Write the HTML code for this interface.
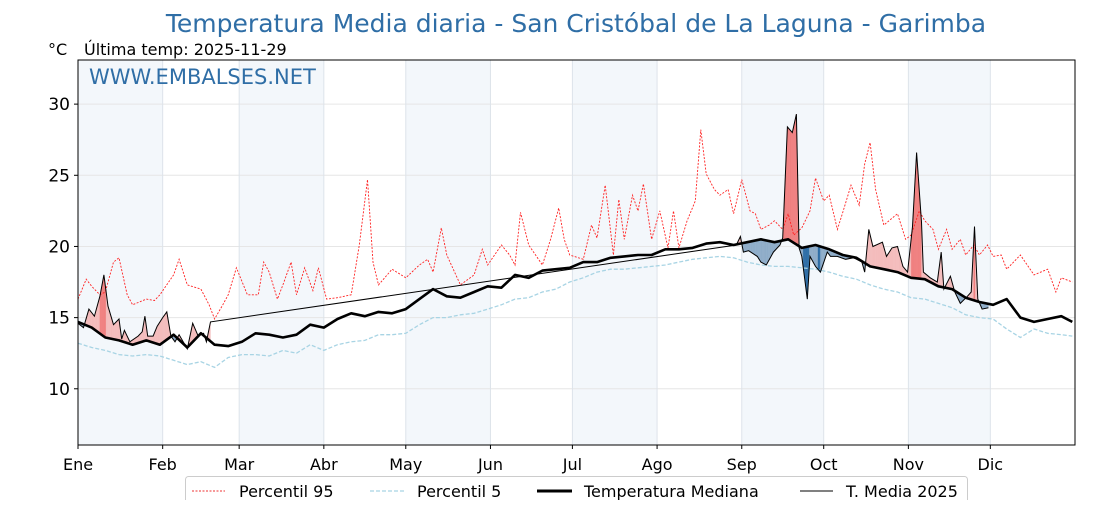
<!DOCTYPE html>
<html><head><meta charset="utf-8"><style>
body{margin:0;background:#fff;}
svg text{font-family:"DejaVu Sans","Liberation Sans",sans-serif;}
</style></head><body>
<svg id="chart" width="1120" height="500" viewBox="0 0 1120 500" xmlns="http://www.w3.org/2000/svg">
<text x="576" y="32" text-anchor="middle" font-size="25" fill="#2f6ea6">Temperatura Media diaria - San Cristóbal de La Laguna - Garimba</text>
<text x="48" y="55" font-size="16" fill="#000">°C</text>
<text x="84" y="55" font-size="16" fill="#000">Última temp: 2025-11-29</text>
<g id="plot"></g>
<text x="89" y="84" font-size="21" fill="#2f6ea6">WWW.EMBALSES.NET</text>
<g>
<rect x="185.5" y="476.5" width="782" height="30" rx="3" fill="#fff" stroke="#ccc"/>
<line x1="192" y1="491" x2="225" y2="491" stroke="#e33" stroke-width="1" stroke-dasharray="2,1.5"/>
<text x="239" y="497" font-size="16">Percentil 95</text>
<line x1="370" y1="491" x2="405" y2="491" stroke="#a8d4e4" stroke-width="1.3" stroke-dasharray="4,2"/>
<text x="417" y="497" font-size="16">Percentil 5</text>
<line x1="537" y1="491" x2="572" y2="491" stroke="#000" stroke-width="3"/>
<text x="584" y="497" font-size="16">Temperatura Mediana</text>
<line x1="800" y1="491" x2="833" y2="491" stroke="#000" stroke-width="1"/>
<text x="846" y="497" font-size="16">T. Media 2025</text>
</g>
</svg>
<script>
const monthLabels=["Ene","Feb","Mar","Abr","May","Jun","Jul","Ago","Sep","Oct","Nov","Dic"];
const monthStartDays=[0,31,59,90,120,151,181,212,243,273,304,334];
const yTicks=[10,15,20,25,30];
const medianVals=[14.7,14.3,13.6,13.4,13.1,13.4,13.1,13.8,12.9,13.9,13.1,13.0,13.3,13.9,13.8,13.6,13.8,14.5,14.3,14.9,15.3,15.1,15.4,15.3,15.6,16.3,17.0,16.5,16.4,16.8,17.2,17.1,18.0,17.8,18.3,18.4,18.5,18.9,18.9,19.2,19.3,19.4,19.4,19.8,19.8,19.9,20.2,20.3,20.1,20.3,20.5,20.3,20.5,19.9,20.1,19.8,19.4,19.2,18.6,18.4,18.2,17.8,17.7,17.2,17.0,16.4,16.1,15.9,16.3,15.0,14.7,14.9,15.1,14.7];
const p5Vals=[13.2,12.9,12.7,12.4,12.3,12.4,12.3,12.0,11.7,11.9,11.5,12.2,12.4,12.4,12.3,12.7,12.5,13.1,12.7,13.1,13.3,13.4,13.8,13.8,13.9,14.5,15.0,15.0,15.2,15.3,15.6,15.9,16.3,16.4,16.8,17.0,17.5,17.8,18.2,18.4,18.4,18.5,18.6,18.7,18.9,19.1,19.2,19.3,19.2,18.9,18.7,18.6,18.6,18.5,18.4,18.2,17.9,17.7,17.3,17.0,16.8,16.4,16.3,16.0,15.7,15.2,15.0,14.9,14.2,13.6,14.2,13.9,13.8,13.7];
const p95Days=[0,3,5,8,10,13,15,18,20,25,28,30,35,37,40,45,48,50,53,55,58,62,66,68,70,73,75,78,80,83,86,88,91,95,100,103,106,108,110,115,120,125,128,130,133,135,140,145,148,150,155,158,160,162,165,170,173,176,178,180,185,188,190,193,196,198,200,203,205,207,210,213,216,218,220,223,226,228,230,233,235,238,240,243,246,248,250,253,255,258,260,262,265,268,270,273,275,278,280,283,286,288,290,292,295,300,303,305,308,310,313,315,318,320,323,325,328,330,333,335,338,340,345,350,355,358,360,364];
const p95Vals=[16.3,17.7,17.2,16.6,16.8,18.9,19.2,16.6,15.9,16.3,16.2,16.6,18.0,19.1,17.3,17.0,15.9,14.9,15.9,16.6,18.5,16.6,16.6,18.9,18.2,16.3,17.3,18.9,16.6,18.5,16.9,18.5,16.3,16.4,16.6,20.1,24.7,18.9,17.3,18.4,17.8,18.7,19.1,18.2,21.3,19.4,17.3,18.0,19.8,18.7,20.1,19.4,18.7,22.4,20.1,18.7,20.5,22.7,20.5,19.4,19.1,21.5,20.6,24.3,19.4,23.3,20.5,23.6,22.5,24.4,20.5,22.5,19.9,22.5,19.9,21.8,23.2,28.2,25.1,24.0,23.6,24.0,22.3,24.7,22.5,22.3,21.2,21.5,21.8,21.2,22.3,20.8,21.3,22.5,24.8,23.2,23.6,21.2,22.4,24.3,22.9,25.8,27.3,24.0,21.5,22.3,20.5,20.8,22.5,21.8,21.2,19.8,21.2,19.8,20.5,19.4,20.1,19.4,20.1,19.3,19.4,18.4,19.4,18.0,18.4,16.8,17.8,17.5];
const y2025Days=[0,2,4,6,8,9.5,11,13,15,16,17,19,22,23.5,24.5,25.5,27.5,29,31,32.5,34,35.5,37,40,42,44,46,47,48.5,241,242.5,243.6,245.5,248.7,250,252,254.6,257,258,259.7,261.5,263,264,265,267,268,270,271.8,274.3,275.5,278,281,284,287,288,289.5,291,294.5,296,298,300,302,303.7,305.5,307,308.8,309.5,312,314.6,316,317,319.4,321,323,325.6,327,328.2,329.4,331,333.3];
const y2025Vals=[14.6,14.3,15.6,15.1,16.5,18.0,15.8,14.5,14.9,13.5,14.1,13.3,13.7,14.0,15.1,13.7,13.7,14.4,15.0,15.4,13.7,13.3,13.8,12.8,14.6,13.7,13.9,13.3,14.7,20.1,20.7,19.6,19.7,19.3,18.9,18.7,19.6,20.1,20.6,28.4,28.0,29.3,19.9,19.3,16.3,19.3,18.6,18.2,19.6,19.3,19.3,19.1,19.2,18.9,18.2,21.2,20.0,20.3,19.3,19.9,20.0,18.6,18.2,21.4,26.6,21.7,18.2,17.8,17.5,19.6,17.0,17.9,16.8,16.0,16.5,16.8,21.4,16.3,15.6,15.7];
const gapStart=28;

const X0=78,X1=1075,Y0=60,Y1=445,TMIN=6.05,TMAX=33.1;
const sx=d=>X0+(X1-X0)*d/365;
const sy=t=>Y1-(Y1-Y0)*(t-TMIN)/(TMAX-TMIN);
const NS="http://www.w3.org/2000/svg";
const g=document.getElementById('plot');
function mk(tag,attrs,parent){const e=document.createElementNS(NS,tag);for(const k in attrs)e.setAttribute(k,attrs[k]);(parent||g).appendChild(e);return e;}
function interp(days,vals,d){for(let i=0;i<days.length-1;i++){if(d<=days[i+1]){const f=(d-days[i])/(days[i+1]-days[i]);return vals[i]+f*(vals[i+1]-vals[i]);}}return vals[vals.length-1];}
const medDays=medianVals.map((v,i)=>Math.min(i*5,364));
const med=d=>interp(medDays,medianVals,d);
const p5=d=>interp(medDays,p5Vals,d);
const p95=d=>interp(p95Days,p95Vals,d);

for(let i=0;i<12;i+=2){
  const a=sx(monthStartDays[i]),b=sx(monthStartDays[i+1]);
  const r=mk('rect',{x:a,y:Y0,width:b-a,height:Y1-Y0,fill:'#f3f7fb'});
  
  
}
yTicks.forEach(t=>{
  const l=mk('line',{x1:X0,x2:X1,y1:sy(t),y2:sy(t),stroke:'#e6e6e6','stroke-width':1});
  
  
  const tk=mk('line',{x1:X0-4,x2:X0,y1:sy(t),y2:sy(t),stroke:'#000'});
  
  
  const tx=mk('text',{x:X0-8,y:sy(t)+6,'text-anchor':'end','font-size':17});
  tx.textContent=t;
  
  
});
monthStartDays.forEach((d,i)=>{
  const l=mk('line',{x1:sx(d),x2:sx(d),y1:Y0,y2:Y1,stroke:'#dde3ea','stroke-width':1});
  
  
  const tk=mk('line',{x1:sx(d),x2:sx(d),y1:Y1,y2:Y1+4,stroke:'#000'});
  
  
  const tx=mk('text',{x:sx(d),y:Y1+25,'text-anchor':'middle','font-size':16});
  tx.textContent=monthLabels[i];
  
  
});
const fills=mk('g',{});


for(let i=0;i<y2025Days.length-1;i++){
  if(i===gapStart)continue;
  const n=4;
  for(let k=0;k<n;k++){
    const d1=y2025Days[i]+(y2025Days[i+1]-y2025Days[i])*k/n;
    const d2=y2025Days[i]+(y2025Days[i+1]-y2025Days[i])*(k+1)/n;
    const t1=y2025Vals[i]+(y2025Vals[i+1]-y2025Vals[i])*k/n;
    const t2=y2025Vals[i]+(y2025Vals[i+1]-y2025Vals[i])*(k+1)/n;
    const dm=(d1+d2)/2,tm=(t1+t2)/2,mm=med(dm);
    let c;
    if(tm>=mm) c=tm>p95(dm)?'#f08080':'#f4bcbc'; else c=tm<p5(dm)?'#2f6ea6':'#8fadc9';
    mk('polygon',{points:`${sx(d1)},${sy(t1)} ${sx(d2)},${sy(t2)} ${sx(d2)},${sy(med(d2))} ${sx(d1)},${sy(med(d1))}`,fill:c,stroke:c,'stroke-width':0.3},fills);
  }
}
function pathOf(days,vals){return days.map((d,i)=>(i?'L':'M')+sx(d).toFixed(1)+','+sy(vals[i]).toFixed(1)).join('');}
const pp=mk('path',{d:pathOf(p95Days,p95Vals),fill:'none',stroke:'#f22','stroke-width':0.9,'stroke-dasharray':'2,1.5'});


const p5p=mk('path',{d:pathOf(medDays,p5Vals),fill:'none',stroke:'#a8d4e4','stroke-width':1.3,'stroke-dasharray':'4,2'});


const mp=mk('path',{d:pathOf(medDays,medianVals),fill:'none',stroke:'#000','stroke-width':2.6,'stroke-linejoin':'round'});


const yp=mk('path',{d:pathOf(y2025Days,y2025Vals),fill:'none',stroke:'#000','stroke-width':1});


const fr=mk('rect',{x:X0,y:Y0,width:X1-X0,height:Y1-Y0,fill:'none',stroke:'#000','stroke-width':1});


</script>
</body></html>
